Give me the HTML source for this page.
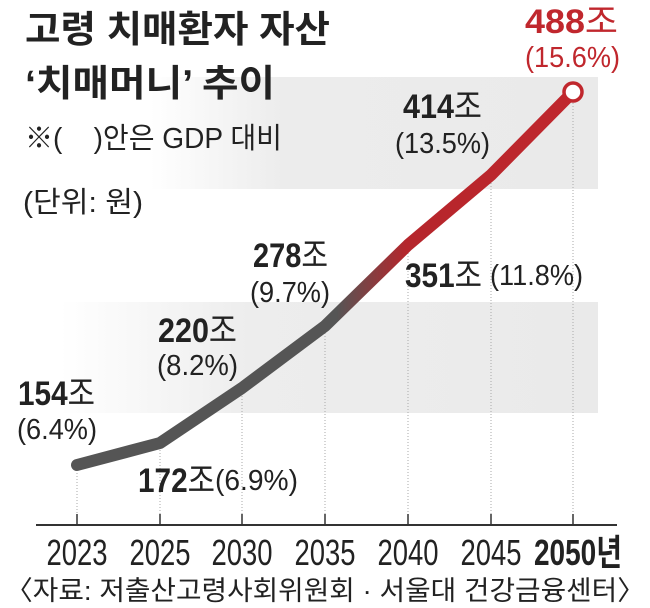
<!DOCTYPE html>
<html><head><meta charset="utf-8"><style>
html,body{margin:0;padding:0;background:#fff;}
svg{display:block;}
text{font-family:"Liberation Sans","Noto Sans CJK KR",sans-serif;fill:#222;}
.b{font-weight:bold;}
</style></head><body>
<svg width="650" height="608" viewBox="0 0 650 608">
<defs>
<linearGradient id="bg1" x1="0" x2="1"><stop offset="0" stop-color="#fff"/><stop offset="0.3" stop-color="#ececec"/><stop offset="1" stop-color="#eaeaea"/></linearGradient>
<linearGradient id="bg2" x1="0" x2="1"><stop offset="0" stop-color="#fff"/><stop offset="0.35" stop-color="#ededed"/><stop offset="1" stop-color="#eaeaea"/></linearGradient>
<linearGradient id="ln" gradientUnits="userSpaceOnUse" x1="77" y1="0" x2="576" y2="0"><stop offset="0" stop-color="#555"/><stop offset="0.52" stop-color="#555"/><stop offset="0.66" stop-color="#b5262c"/><stop offset="1" stop-color="#c0272d"/></linearGradient>
</defs>
<rect x="150" y="77" width="448" height="112" fill="url(#bg1)"/>
<rect x="60" y="302" width="538" height="111" fill="url(#bg2)"/>
<g stroke="#aaa" stroke-width="1" stroke-dasharray="1,2">
<line x1="77" y1="470" x2="77" y2="514"/><line x1="160" y1="450" x2="160" y2="514"/><line x1="242" y1="390" x2="242" y2="514"/><line x1="325" y1="330" x2="325" y2="514"/><line x1="408" y1="250" x2="408" y2="514"/><line x1="491" y1="180" x2="491" y2="514"/><line x1="573" y1="100" x2="573" y2="514"/>
</g>
<line x1="36" y1="525" x2="617" y2="525" stroke="#333" stroke-width="2"/>
<g stroke="#333" stroke-width="1.5">
<line x1="77" y1="514" x2="77" y2="525"/><line x1="160" y1="514" x2="160" y2="525"/><line x1="242" y1="514" x2="242" y2="525"/><line x1="325" y1="514" x2="325" y2="525"/><line x1="408" y1="514" x2="408" y2="525"/><line x1="491" y1="514" x2="491" y2="525"/><line x1="573" y1="514" x2="573" y2="525"/>
</g>
<polyline points="77,465 160,443 242,388 325,326 408,245 491,175 573,92" fill="none" stroke="url(#ln)" stroke-width="12" stroke-linecap="round" stroke-linejoin="round"/>
<circle cx="573" cy="92" r="9" fill="#fff" stroke="#c0272d" stroke-width="3.5"/>
<text x="25" y="42" class="b" font-size="37" textLength="305" lengthAdjust="spacingAndGlyphs">고령 치매환자 자산</text>
<text x="25" y="96" class="b" font-size="37" textLength="250" lengthAdjust="spacingAndGlyphs">‘치매머니’ 추이</text>
<text x="25" y="148" font-size="29" textLength="257" lengthAdjust="spacingAndGlyphs">※(&#160;&#160;&#160;&#160;)안은 GDP 대비</text>
<text x="23" y="212" font-size="29" textLength="120" lengthAdjust="spacingAndGlyphs">(단위: 원)</text>
<g font-size="34" class="b">
<text x="525" y="33" style="fill:#c0272d" textLength="93" lengthAdjust="spacingAndGlyphs">488<tspan font-weight="normal" style="fill:#c0272d">조</tspan></text>
<text x="403" y="118" textLength="79" lengthAdjust="spacingAndGlyphs">414<tspan font-weight="normal">조</tspan></text>
<text x="253" y="267" textLength="75" lengthAdjust="spacingAndGlyphs">278<tspan font-weight="normal">조</tspan></text>
<text x="405" y="287" textLength="77" lengthAdjust="spacingAndGlyphs">351<tspan font-weight="normal">조</tspan></text>
<text x="158" y="342" textLength="79" lengthAdjust="spacingAndGlyphs">220<tspan font-weight="normal">조</tspan></text>
<text x="18" y="405" textLength="77" lengthAdjust="spacingAndGlyphs">154<tspan font-weight="normal">조</tspan></text>
<text x="138" y="492" textLength="77" lengthAdjust="spacingAndGlyphs">172<tspan font-weight="normal">조</tspan></text>
</g>
<g font-size="29">
<text x="525" y="67" style="fill:#c0272d" textLength="95" lengthAdjust="spacingAndGlyphs">(15.6%)</text>
<text x="395" y="153" textLength="95" lengthAdjust="spacingAndGlyphs">(13.5%)</text>
<text x="250" y="302" textLength="80" lengthAdjust="spacingAndGlyphs">(9.7%)</text>
<text x="490" y="285" textLength="93" lengthAdjust="spacingAndGlyphs">(11.8%)</text>
<text x="157" y="375" textLength="81" lengthAdjust="spacingAndGlyphs">(8.2%)</text>
<text x="17" y="439" textLength="80" lengthAdjust="spacingAndGlyphs">(6.4%)</text>
<text x="215" y="490" textLength="83" lengthAdjust="spacingAndGlyphs">(6.9%)</text>
</g>
<g font-size="36" text-anchor="middle">
<text x="77" y="565" textLength="61" lengthAdjust="spacingAndGlyphs">2023</text>
<text x="160" y="565" textLength="61" lengthAdjust="spacingAndGlyphs">2025</text>
<text x="242" y="565" textLength="61" lengthAdjust="spacingAndGlyphs">2030</text>
<text x="325" y="565" textLength="61" lengthAdjust="spacingAndGlyphs">2035</text>
<text x="408" y="565" textLength="61" lengthAdjust="spacingAndGlyphs">2040</text>
<text x="491" y="565" textLength="61" lengthAdjust="spacingAndGlyphs">2045</text>
<text x="578" y="565" class="b" textLength="88" lengthAdjust="spacingAndGlyphs">2050년</text>
</g>
<text x="5" y="600" font-size="27" textLength="640" lengthAdjust="spacingAndGlyphs">〈자료: 저출산고령사회위원회 · 서울대 건강금융센터〉</text>
</svg>
</body></html>
